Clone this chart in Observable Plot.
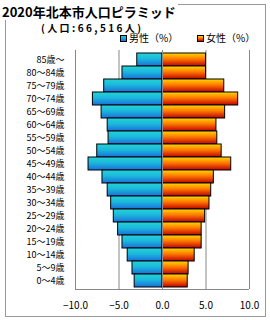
<!DOCTYPE html>
<html>
<head>
<meta charset="utf-8">
<script src="https://cdn.jsdelivr.net/npm/d3@7"></script>
<script src="https://cdn.jsdelivr.net/npm/@observablehq/plot@0.6"></script>
<style>
  html, body { margin: 0; padding: 0; background: #fff; }
  #wrap { position: relative; width: 270px; height: 320px; font-family: "Noto Sans CJK JP", sans-serif; overflow: hidden; }
  #box { position: absolute; left: 5px; top: 4px; width: 259px; height: 311px; border: 1px solid #999; }
  #title { position: absolute; left: 2px; top: 3px; font-size: 13px; font-weight: bold; background: #fff; line-height: 17px; padding-right: 2px; color: #000; white-space: nowrap; }
  #sub { position: absolute; left: 41px; top: 21px; font-size: 10px; font-weight: bold; letter-spacing: 2.4px; line-height: 14px; color: #000; white-space: nowrap; }
  .leg { position: absolute; top: 31px; font-size: 10px; line-height: 14px; color: #000; white-space: nowrap; display: flex; align-items: center; }
  .sw { width: 5px; height: 5px; border: 1px solid #000; margin-right: 2px; }
  #chart { position: absolute; left: 0; top: 0; }
</style>
</head>
<body>
<div id="wrap">
  <div id="box"></div>
  <div id="chart"></div>
  <div id="title"></div>
  <div id="sub"></div>
  <div class="leg" id="legM" style="left:120px"><div class="sw" style="background:linear-gradient(#22d0d8,#1a74dc)"></div><span></span></div>
  <div class="leg" id="legF" style="left:197px"><div class="sw" style="background:linear-gradient(#ffd800,#ff6a00,#c80000)"></div><span></span></div>
</div>
<script>
const titleText = "2020年北本市人口ピラミッド";
const subText = "(人口:66,516人)";
const seriesNames = ["男性（%）", "女性（%）"];
const ages = ["85歳〜","80〜84歳","75〜79歳","70〜74歳","65〜69歳","60〜64歳","55〜59歳","50〜54歳","45〜49歳","40〜44歳","35〜39歳","30〜34歳","25〜29歳","20〜24歳","15〜19歳","10〜14歳","5〜9歳","0〜4歳"];
const male =   [2.9, 4.6, 6.7, 8.0, 7.0, 6.3, 6.2, 7.5, 8.5, 6.9, 6.3, 5.9, 5.6, 5.1, 4.6, 4.0, 3.45, 3.2];
const female = [5.0, 5.0, 7.1, 8.7, 7.2, 6.2, 6.3, 6.8, 7.9, 5.9, 5.6, 5.4, 4.9, 4.5, 4.5, 3.7, 3.0, 2.9];
const xTicks = [-10, -5, 0, 5, 10];

document.getElementById("title").textContent = titleText;
document.getElementById("sub").textContent = subText;
document.querySelector("#legM span").textContent = seriesNames[0];
document.querySelector("#legF span").textContent = seriesNames[1];

const rows = ages.map((a, i) => ({age: a, male: male[i], female: female[i]}));

const defs = () => {
  const d = d3.create("svg:defs");
  const gm = d.append("linearGradient").attr("id", "gM").attr("x1", 0).attr("y1", 0).attr("x2", 0).attr("y2", 1);
  gm.append("stop").attr("offset", "0%").attr("stop-color", "#22d4d6");
  gm.append("stop").attr("offset", "45%").attr("stop-color", "#1cb8dc");
  gm.append("stop").attr("offset", "100%").attr("stop-color", "#1a6edc");
  const gf = d.append("linearGradient").attr("id", "gF").attr("x1", 0).attr("y1", 0).attr("x2", 0).attr("y2", 1);
  gf.append("stop").attr("offset", "0%").attr("stop-color", "#ffd800");
  gf.append("stop").attr("offset", "45%").attr("stop-color", "#ff7a00");
  gf.append("stop").attr("offset", "100%").attr("stop-color", "#c00000");
  return d.node();
};

const bottomLine = (index, scales, values, dims) => {
  const g = d3.create("svg:g");
  g.append("line")
    .attr("x1", dims.marginLeft).attr("x2", dims.width - dims.marginRight)
    .attr("y1", dims.height - dims.marginBottom + 0.5).attr("y2", dims.height - dims.marginBottom + 0.5)
    .attr("stroke", "#888");
  return g.node();
};

const fmt = d => (d < 0 ? "−" : "") + Math.abs(d).toFixed(1);

const chart = Plot.plot({
  width: 270,
  height: 320,
  marginTop: 50,
  marginBottom: 31,
  marginLeft: 75,
  marginRight: 21,
  style: {fontFamily: "'Noto Sans CJK JP', sans-serif", fontSize: "10px", background: "transparent", color: "#000"},
  x: {domain: [-10, 10], ticks: xTicks},
  y: {domain: ages, padding: 0},
  marks: [
    defs,
    Plot.ruleX(xTicks, {stroke: "#888", strokeOpacity: 1}),
    bottomLine,
    Plot.barX(rows, {y: "age", x1: 0, x2: d => -d.male, fill: "url(#gM)", stroke: "#000", strokeWidth: 1}),
    Plot.barX(rows, {y: "age", x1: 0, x2: "female", fill: "url(#gF)", stroke: "#000", strokeWidth: 1}),
    Plot.ruleX([0], {stroke: "#888", strokeOpacity: 1}),
    Plot.axisX({ticks: xTicks, tickSize: 0, tickPadding: 12, tickFormat: fmt, label: null, fontSize: 10}),
    Plot.axisY({tickSize: 0, tickPadding: 11, label: null, fontSize: 9, style: {letterSpacing: "1.3px"}})
  ]
});
document.getElementById("chart").appendChild(chart);
</script>
</body>
</html>
